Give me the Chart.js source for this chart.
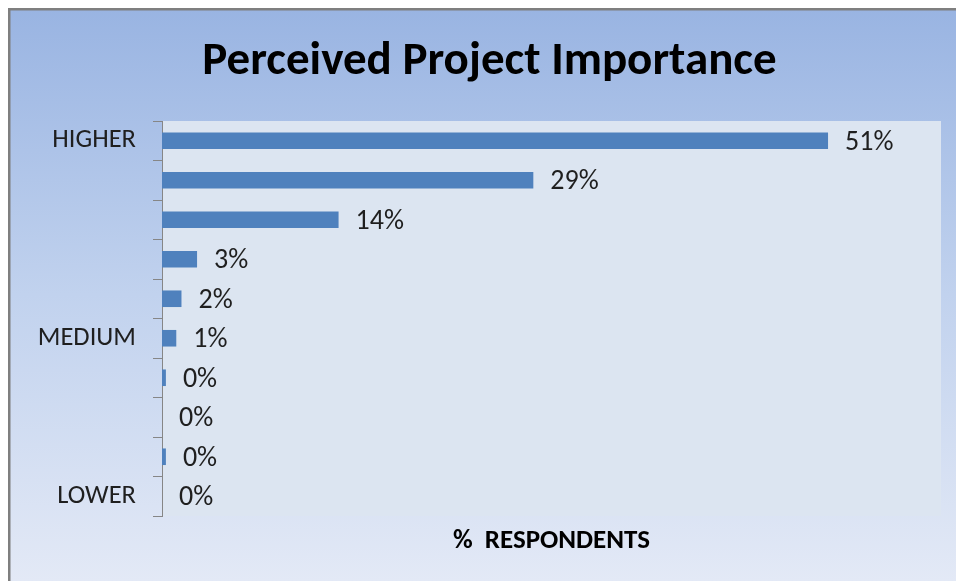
<!DOCTYPE html>
<html>
<head>
<meta charset="utf-8">
<script src="https://cdn.jsdelivr.net/npm/chart.js@4/dist/chart.umd.min.js"></script>
<style>
  html, body { margin: 0; padding: 0; background: #ffffff; }
  #wrap { width: 957px; height: 581px; position: relative; }
</style>
</head>
<body>
<div id="wrap"><canvas id="c" width="957" height="581"></canvas></div>
<script>
// ---- data ----
const chartTitle = 'Perceived Project Importance';
const axisTitle = '%  RESPONDENTS';
const categories = ['HIGHER', '', '', '', '', 'MEDIUM', '', '', '', 'LOWER'];
const respondentPct = [51.3, 28.6, 13.6, 2.7, 1.5, 1.1, 0.3, 0, 0.3, 0];
const xMin = 0;
const xMax = 60;

// ---- plugins ----
const backgroundPlugin = {
  id: 'bgPlugin',
  beforeDraw(chart) {
    const ctx = chart.ctx;
    const W = chart.width, H = chart.height;
    ctx.save();
    ctx.fillStyle = '#ffffff';
    ctx.fillRect(0, 0, W, H);
    const g = ctx.createLinearGradient(0, 8, 0, H);
    g.addColorStop(0, '#99b4e2');
    g.addColorStop(0.5, '#c1d2ee');
    g.addColorStop(1, '#e3e9f6');
    ctx.fillStyle = g;
    ctx.fillRect(8, 8, W - 9, H - 8);
    ctx.fillStyle = '#7f7f7f';
    ctx.fillRect(8, 8, 2.5, H - 8);
    ctx.fillRect(8, 8, W - 9, 2.5);
    const a = chart.chartArea;
    ctx.fillStyle = '#dce5f1';
    ctx.fillRect(a.left, a.top, a.right - a.left, a.bottom - a.top);
    ctx.restore();
  }
};

const valueLabelPlugin = {
  id: 'valueLabels',
  afterDatasetsDraw(chart) {
    const ctx = chart.ctx;
    const meta = chart.getDatasetMeta(0);
    ctx.save();
    ctx.font = '28px Carlito, Lato';
    ctx.fillStyle = '#1f1f1f';
    ctx.textAlign = 'left';
    ctx.textBaseline = 'middle';
    meta.data.forEach((bar, i) => {
      const v = chart.data.datasets[0].data[i];
      ctx.fillText(Math.round(v) + '%', bar.x + 17, bar.y + 2);
    });
    ctx.restore();
  }
};

new Chart(document.getElementById('c'), {
  type: 'bar',
  data: {
    labels: categories,
    datasets: [{
      data: respondentPct,
      backgroundColor: '#4f81bd',
      borderWidth: 0,
      categoryPercentage: 1,
      barPercentage: 0.42
    }]
  },
  options: {
    indexAxis: 'y',
    responsive: false,
    animation: false,
    devicePixelRatio: 1,
    layout: { padding: { left: 38, right: 16, top: 0, bottom: 0 } },
    plugins: {
      legend: { display: false },
      tooltip: { enabled: false },
      title: {
        display: true,
        text: chartTitle,
        color: '#000000',
        font: { family: 'Carlito, Lato', size: 47, weight: 'bold', lineHeight: 1.2 },
        padding: { top: 34, bottom: 30.6 }
      }
    },
    scales: {
      x: {
        min: xMin,
        max: xMax,
        grid: { display: false, drawTicks: false },
        border: { display: false },
        ticks: { display: false },
        title: {
          display: true,
          text: axisTitle,
          color: '#000000',
          font: { family: 'Carlito, Lato', size: 27, weight: 'bold', lineHeight: 1.2 },
          padding: { top: 8.6, bottom: 24 }
        }
      },
      y: {
        grid: {
          display: true,
          offset: true,
          drawOnChartArea: false,
          drawTicks: true,
          tickLength: 9,
          color: '#868686',
          lineWidth: 1
        },
        border: { display: true, color: '#868686', width: 1 },
        ticks: {
          color: '#1f1f1f',
          padding: 17,
          autoSkip: false,
          font: { family: 'Carlito, Lato', size: 26.5 }
        },
        afterFit(scale) { scale.width = 124; }
      }
    }
  },
  plugins: [backgroundPlugin, valueLabelPlugin]
});
</script>
</body>
</html>
